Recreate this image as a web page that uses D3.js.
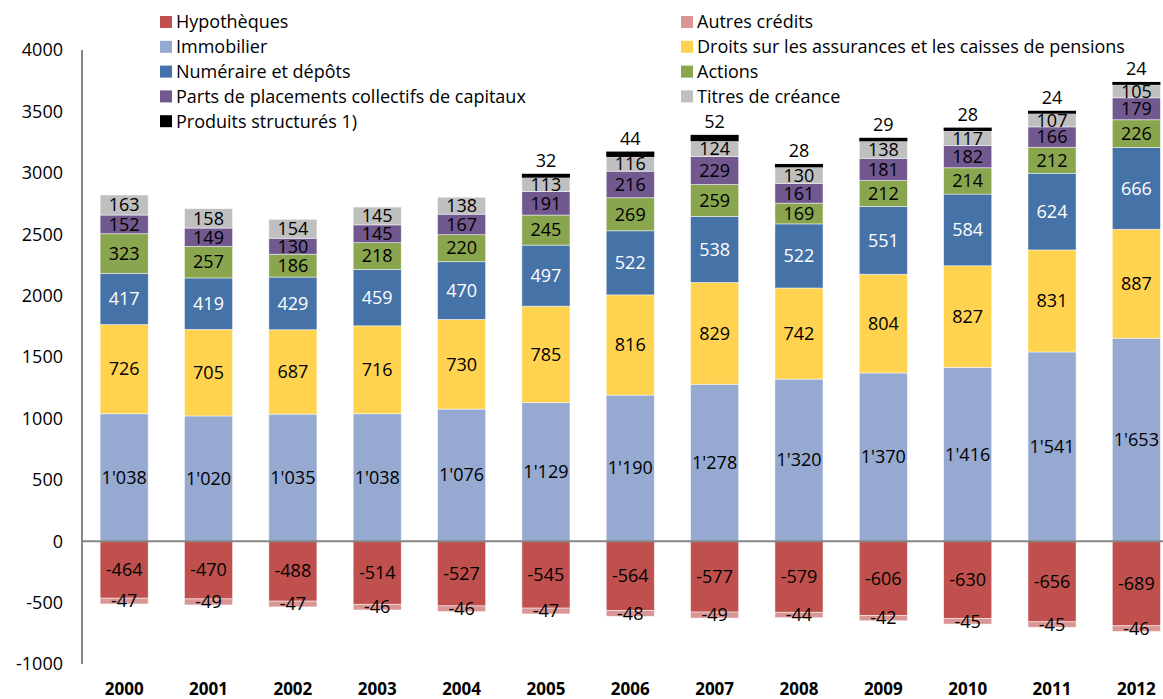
<!DOCTYPE html>
<html>
<head>
<meta charset="utf-8">
<script src="https://cdnjs.cloudflare.com/ajax/libs/d3/7.8.5/d3.min.js"></script>
<style>
  body { margin: 0; background: #fff; }
  svg { font-family: "Open Sans", "Liberation Sans", sans-serif; }
</style>
</head>
<body>
<div id="chart"></div>
<script>
// Years on the x axis
const years = ["2000", "2001", "2002", "2003", "2004", "2005", "2006",
    "2007", "2008", "2009", "2010", "2011", "2012"];

// Series values (mrd CHF)
const hypotheques = [-464, -470, -488, -514, -527, -545, -564, -577, -579, -606, -630, -656, -689];
const autresCredits = [-47, -49, -47, -46, -46, -47, -48, -49, -44, -42, -45, -45, -46];
const immobilier = [1038, 1020, 1035, 1038, 1076, 1129, 1190, 1278, 1320, 1370, 1416, 1541, 1653];
const droits = [726, 705, 687, 716, 730, 785, 816, 829, 742, 804, 827, 831, 887];
const numeraire = [417, 419, 429, 459, 470, 497, 522, 538, 522, 551, 584, 624, 666];
const actions = [323, 257, 186, 218, 220, 245, 269, 259, 169, 212, 214, 212, 226];
const parts = [152, 149, 130, 145, 167, 191, 216, 229, 161, 181, 182, 166, 179];
const titres = [163, 158, 154, 145, 138, 113, 116, 124, 130, 138, 117, 107, 105];
const produits = [null, null, null, null, null, 32, 44, 52, 28, 29, 28, 24, 24];

const yTicks = [-1000, -500, 0, 500, 1000, 1500, 2000, 2500, 3000, 3500, 4000];

// Series in stacking order
const series = [
    {key: "hyp", name: "Hypothèques", values: hypotheques, color: "#C0504D", text: "#000"},
    {key: "aut", name: "Autres crédits", values: autresCredits, color: "#D99694", text: "#000"},
    {key: "imm", name: "Immobilier", values: immobilier, color: "#95A9D1", text: "#000"},
    {key: "dro", name: "Droits sur les assurances et les caisses de pensions", values: droits, color: "#FFD34F", text: "#000"},
    {key: "num", name: "Numéraire et dépôts", values: numeraire, color: "#4572A7", text: "#fff"},
    {key: "act", name: "Actions", values: actions, color: "#89A54E", text: "#000"},
    {key: "par", name: "Parts de placements collectifs de capitaux", values: parts, color: "#71588F", text: "#000"},
    {key: "tit", name: "Titres de créance", values: titres, color: "#BFBFBF", text: "#000"},
    {key: "pro", name: "Produits structurés 1)", values: produits, color: "#000000", text: "#000"}
];

// Legend order: left column, right column
const legendLeft = ["hyp", "imm", "num", "par", "pro"];
const legendRight = ["aut", "dro", "act", "tit"];

const width = 1163, height = 699;
const fontSize = "18px";
const svg = d3.select("#chart").append("svg")
    .attr("width", width)
    .attr("height", height);

// Build table for d3.stack
const table = years.map(function(y, i) {
    let row = {year: y};
    series.forEach(function(s) { row[s.key] = s.values[i] || 0; });
    return row;
});

const stacked = d3.stack()
    .keys(series.map(function(s) { return s.key; }))
    .offset(d3.stackOffsetDiverging)(table);

const x = d3.scaleBand()
    .domain(years)
    .range([82, 82 + 13 * 84.35])
    .paddingInner(0.43)
    .paddingOuter(0.215);

const y = d3.scaleLinear()
    .domain([-1000, 4000])
    .range([664, 50]);

// Y axis labels
svg.append("g")
    .selectAll("text")
    .data(yTicks)
    .enter().append("text")
    .attr("x", 63)
    .attr("y", function(d) { return y(d); })
    .attr("dy", "0.35em")
    .style("text-anchor", "end")
    .style("font-size", fontSize)
    .text(function(d) { return d; });

// Bars
const layers = svg.append("g")
    .selectAll("g")
    .data(stacked)
    .enter().append("g")
    .attr("fill", function(d, i) { return series[i].color; });

layers.selectAll("rect")
    .data(function(d, i) {
        return d.map(function(p, j) { return {p: p, s: series[i], j: j}; })
            .filter(function(e) { return e.s.values[e.j] !== null; });
    })
    .enter().append("rect")
    .attr("x", function(d) { return x(years[d.j]); })
    .attr("width", x.bandwidth())
    .attr("y", function(d) { return y(Math.max(d.p[0], d.p[1])); })
    .attr("height", function(d) { return Math.abs(y(d.p[0]) - y(d.p[1])); })
    .attr("stroke", function(d) { return d.s.key === "pro" ? "none" : "rgba(255,255,255,0.6)"; })
    .attr("stroke-width", 0.8);

// Zero line and vertical axis line
svg.append("line")
    .attr("x1", 82).attr("x2", width)
    .attr("y1", y(0)).attr("y2", y(0))
    .attr("stroke", "#868686").attr("stroke-width", 2);
svg.append("line")
    .attr("x1", 82).attr("x2", 82)
    .attr("y1", y(4000)).attr("y2", y(-1000))
    .attr("stroke", "#868686").attr("stroke-width", 2);

// Value labels
const labels = svg.append("g").style("font-size", fontSize);
stacked.forEach(function(layer, i) {
    let s = series[i];
    layer.forEach(function(p, j) {
        let v = s.values[j];
        if (v === null) return;
        let cy = s.key === "pro" ? y(p[1]) - 13 : y((p[0] + p[1]) / 2);
        let txt = Math.abs(v) >= 1000
            ? d3.format("d")(v).replace(/(\d)(\d{3})$/, "$1'$2")
            : String(v);
        labels.append("text")
            .attr("x", x(years[j]) + x.bandwidth() / 2)
            .attr("y", cy)
            .attr("dy", "0.35em")
            .attr("fill", s.text)
            .style("text-anchor", "middle")
            .text(txt);
    });
});

// X axis year labels
svg.append("g")
    .selectAll("text")
    .data(years)
    .enter().append("text")
    .attr("x", function(d) { return x(d) + x.bandwidth() / 2; })
    .attr("y", 689)
    .attr("dy", "0.35em")
    .style("text-anchor", "middle")
    .style("font-size", "17px")
    .style("font-weight", "bold")
    .text(function(d) { return d; });

// Legend
function drawLegend(keys, lx) {
    let g = svg.append("g");
    keys.forEach(function(k, i) {
        let s = series.find(function(e) { return e.key === k; });
        let ly = 22 + i * 24.8;
        g.append("rect")
            .attr("x", lx).attr("y", ly - 6)
            .attr("width", 12).attr("height", 12)
            .attr("fill", s.color);
        g.append("text")
            .attr("x", lx + 16).attr("y", ly)
            .attr("dy", "0.35em")
            .style("font-size", fontSize)
            .text(s.name);
    });
}
drawLegend(legendLeft, 160);
drawLegend(legendRight, 681);
</script>
</body>
</html>
